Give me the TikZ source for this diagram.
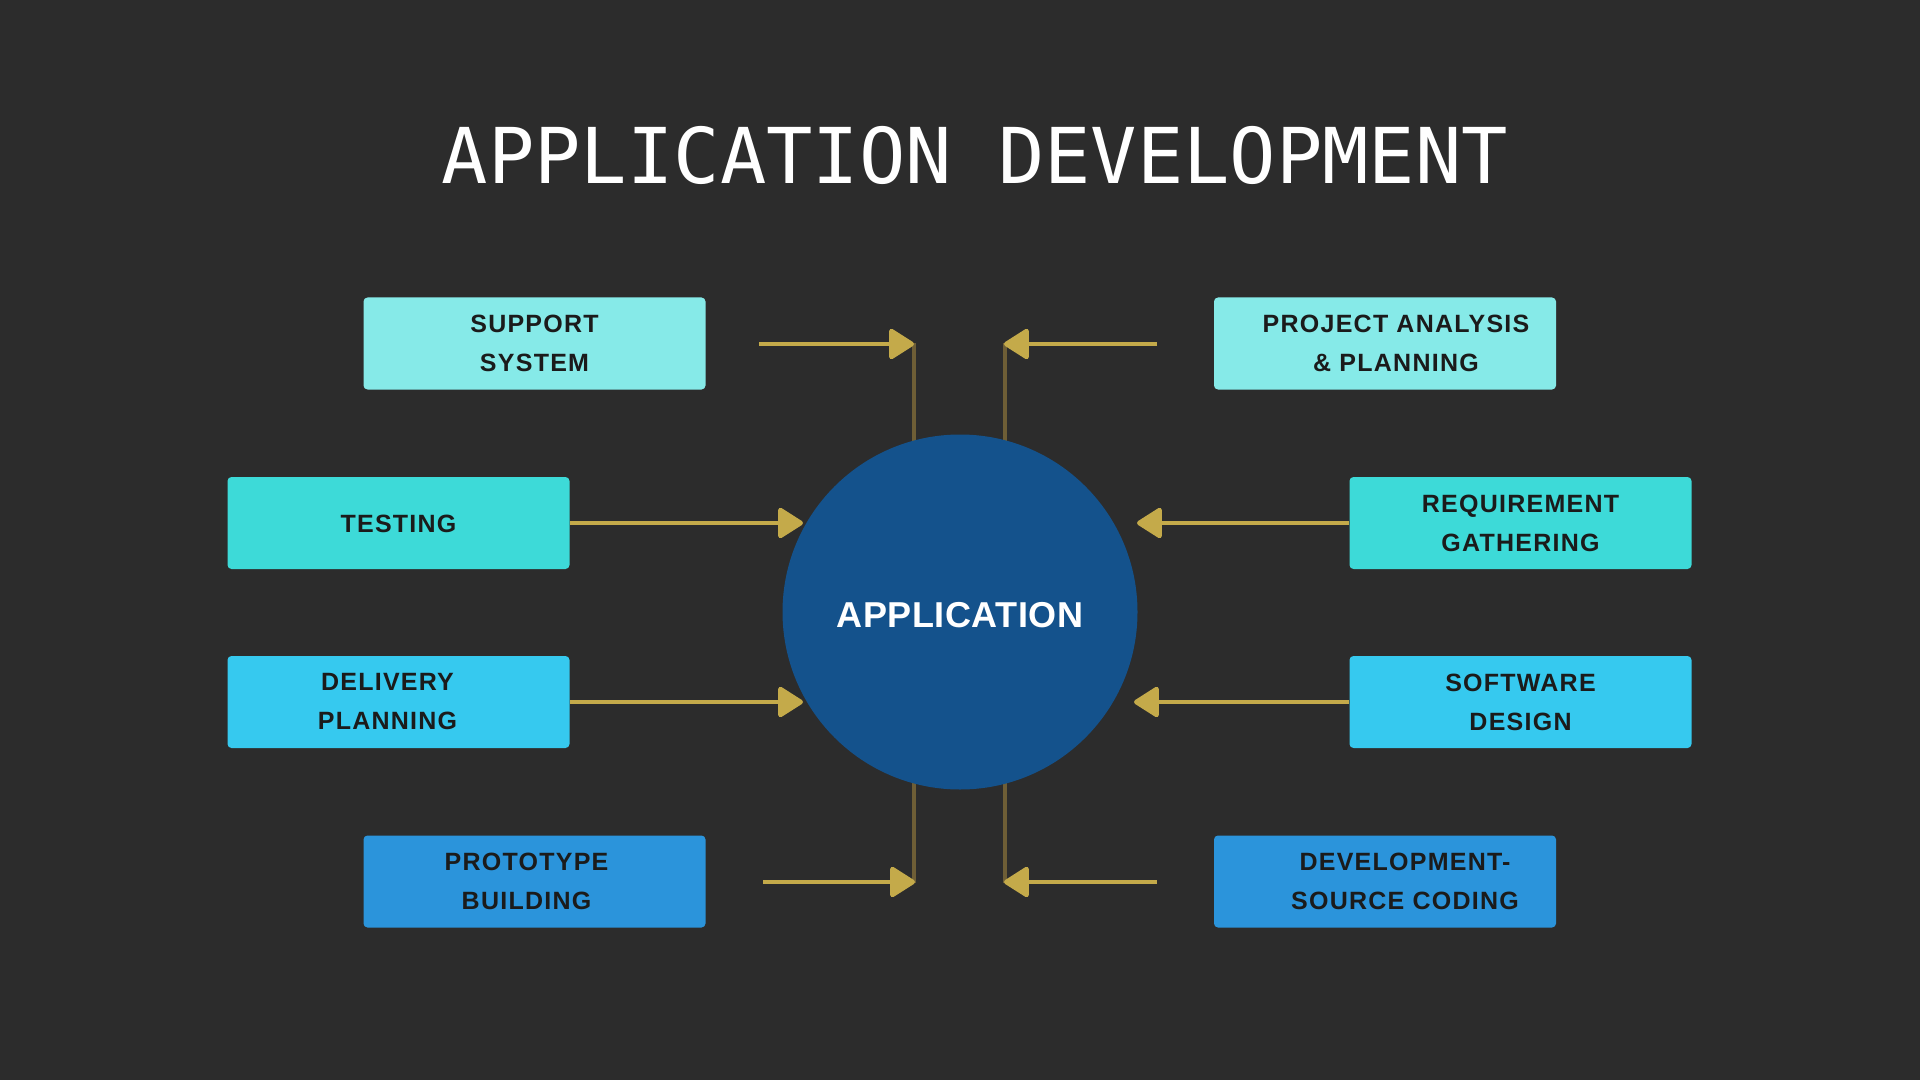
\documentclass[tikz,border=0pt]{standalone}
\usepackage{fontspec}
\setmainfont{Liberation Sans}
\newfontfamily\titlefont{DejaVu Sans Mono}
\newfontfamily\boxfont[LetterSpace=5]{Liberation Sans}
\newfontfamily\appfont[LetterSpace=1.5]{Liberation Sans}
\usetikzlibrary{arrows.meta}
\definecolor{bg}{HTML}{2C2C2C}
\definecolor{cA}{HTML}{86EAE8}
\definecolor{cB}{HTML}{3DDAD8}
\definecolor{cC}{HTML}{36C9EF}
\definecolor{cD}{HTML}{2B94DB}
\definecolor{circ}{HTML}{14528C}
\definecolor{gold}{HTML}{C4AA4A}
\definecolor{stemc}{HTML}{6E5E36}
\definecolor{txt}{HTML}{1B1B1B}
\tikzset{
  box/.style={rectangle, rounded corners=2pt, minimum width=171pt, minimum height=46pt, inner sep=0pt},
  lbl/.style={font=\boxfont\bfseries\fontsize{12.5}{19.5}\selectfont, text=txt, align=center, inner sep=0pt},
  arr/.style={draw=gold, line width=2.3pt, -{Triangle[length=13.5pt,width=16.5pt,round]}},
  stemline/.style={draw=stemc, line width=1.6pt},
}
\begin{document}
\begin{tikzpicture}[x=0.5pt,y=-0.5pt]
\fill[bg] (0,0) rectangle (1920,1080);
\useasboundingbox (0,0) rectangle (1920,1080);

\node[font=\titlefont\fontsize{38.5}{46}\selectfont, text=white, anchor=base, inner sep=0pt] (title) at (975,184) {APPLICATION DEVELOPMENT};

% boxes
\node[box, fill=cA] (support) at (534.5,343.5) {};
\node[box, fill=cA] (project) at (1385,343.5) {};
\node[box, fill=cB] (testing) at (398.5,523) {};
\node[box, fill=cB] (require) at (1520.5,523) {};
\node[box, fill=cC] (delivery) at (398.5,702) {};
\node[box, fill=cC] (software) at (1520.5,702) {};
\node[box, fill=cD] (proto) at (534.5,881.5) {};
\node[box, fill=cD] (develop) at (1385,881.5) {};

\node[lbl] (supportL) at (support) {SUPPORT\\SYSTEM};
\node[lbl] (projectL) at ([xshift=5.5pt]project.center) {PROJECT ANALYSIS\\\& PLANNING};
\node[lbl] (testingL) at ([yshift=-0.5pt]testing.center) {TESTING};
\node[lbl] (requireL) at (require) {REQUIREMENT\\GATHERING};
\node[lbl] (deliveryL) at ([xshift=-5.5pt]delivery.center) {DELIVERY\\PLANNING};
\node[lbl] (softwareL) at (software) {SOFTWARE\\DESIGN};
\node[lbl] (protoL) at ([xshift=-4pt]proto.center) {PROTOTYPE\\BUILDING};
\node[lbl] (developL) at ([xshift=10pt]develop.center) {DEVELOPMENT-\\SOURCE CODING};

% coordinates
\coordinate (supT) at (759,344);
\coordinate (supH) at (914,344);
\coordinate (prjT) at (1157,344);
\coordinate (prjH) at (1004,344);
\coordinate (proT) at (763,882);
\coordinate (proH) at (915,882);
\coordinate (devT) at (1157,882);
\coordinate (devH) at (1004,882);
\coordinate (tstH) at (803,523);
\coordinate (reqH) at (1137,523);
\coordinate (delH) at (803,702);
\coordinate (sofH) at (1134,702);
\coordinate (stTL) at (914,470);
\coordinate (stTR) at (1005,470);
\coordinate (stBL) at (914,760);
\coordinate (stBR) at (1005,760);
\coordinate (stTLe) at (914,343);
\coordinate (stTRe) at (1005,343);
\coordinate (stBLe) at (914,883);
\coordinate (stBRe) at (1005,883);

% stems
\draw[stemline] (stTL) -- (stTLe);
\draw[stemline] (stTR) -- (stTRe);
\draw[stemline] (stBL) -- (stBLe);
\draw[stemline] (stBR) -- (stBRe);

% circle
\node[circle, fill=circ, minimum size=177.5pt, inner sep=0pt, text=white,
  font=\appfont\bfseries\fontsize{18}{22}\selectfont] (app) at (960,612) {};
\node[text=white, inner sep=0pt, font=\appfont\bfseries\fontsize{18}{22}\selectfont] (appL) at ([yshift=-1.5pt]app.center) {APPLICATION};

% arrows
\draw[arr] (supT) -- (supH);
\draw[arr] (prjT) -- (prjH);
\draw[arr] (proT) -- (proH);
\draw[arr] (devT) -- (devH);
\draw[arr] (testing.east) -- (tstH);
\draw[arr] (require.west) -- (reqH);
\draw[arr] (delivery.east) -- (delH);
\draw[arr] (software.west) -- (sofH);
\end{tikzpicture}
\end{document}
